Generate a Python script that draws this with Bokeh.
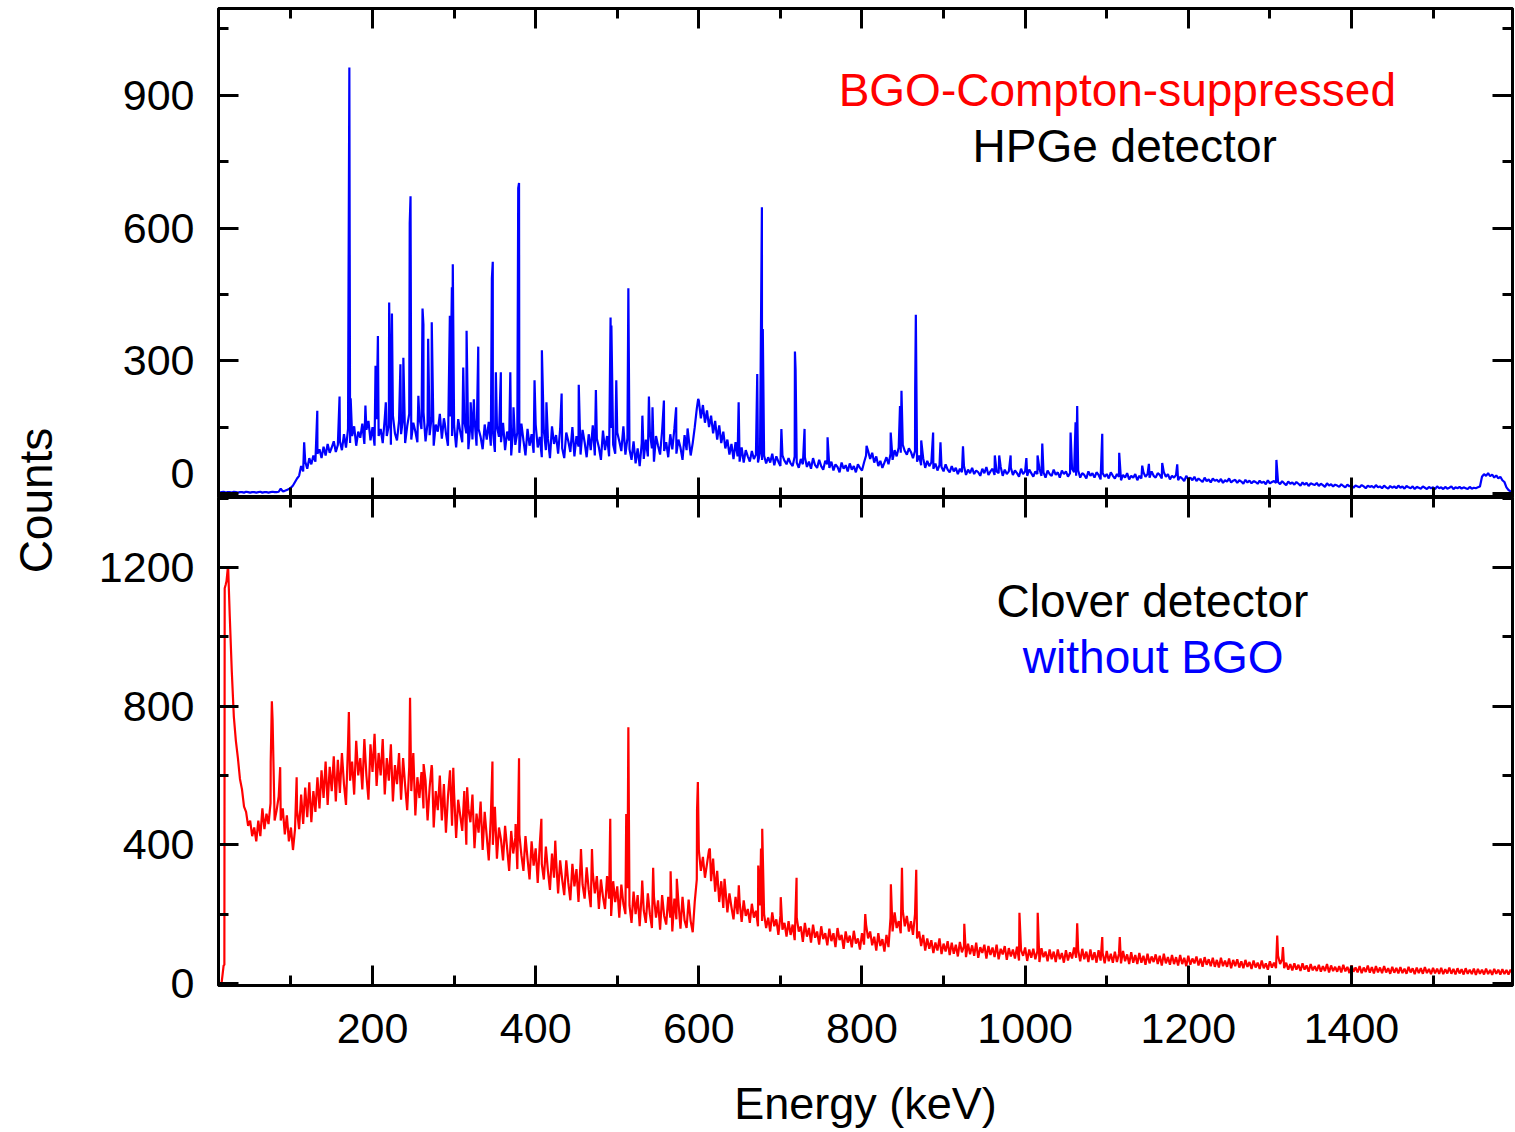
import math
from bokeh.plotting import figure
from bokeh.models import Range1d, FixedTicker, Label, LinearAxis, ColumnDataSource
from bokeh.layouts import row, column
from bokeh.embed import file_html
from bokeh.resources import INLINE

FONT = "Liberation Sans"

# channel energies (keV), 2.5 keV bins from 10 keV
ENERGY = [10 + 2.5 * i for i in range(636)]

# BGO-Compton-suppressed HPGe spectrum: continuum counts per bin
HPGE_COUNTS = [
    3, 2, 3, 4, 2, 3, 3, 2, 4, 3,
    2, 3, 3, 2, 4, 3, 2, 3, 3, 2,
    3, 4, 2, 3, 3, 2, 3, 4, 3, 3,
    4, 11, 5, 6, 8, 10, 13, 18, 26, 34,
    40, 62, 50, 72, 56, 80, 66, 86, 72, 90,
    100, 80, 106, 86, 112, 92, 104, 118, 94, 110,
    118, 98, 134, 104, 146, 114, 130, 152, 108, 140,
    126, 158, 112, 144, 164, 120, 150, 108, 168, 130,
    146, 114, 170, 130, 154, 110, 176, 136, 120, 164,
    134, 172, 114, 152, 180, 122, 160, 140, 116, 170,
    146, 184, 118, 160, 132, 174, 108, 156, 140, 180,
    124, 170, 136, 108, 174, 130, 154, 104, 168, 140,
    116, 164, 136, 100, 156, 122, 170, 108, 146, 128,
    100, 156, 122, 162, 108, 142, 94, 152, 128, 116,
    160, 98, 140, 120, 86, 150, 110, 138, 92, 158,
    120, 86, 146, 108, 134, 92, 156, 104, 128, 82,
    142, 98, 124, 80, 152, 112, 132, 90, 146, 102,
    80, 138, 118, 94, 150, 84, 130, 106, 88, 144,
    116, 82, 134, 98, 154, 86, 124, 104, 76, 142,
    98, 130, 84, 148, 110, 90, 138, 118, 96, 152,
    88, 126, 100, 76, 118, 68, 102, 62, 114, 78,
    122, 84, 138, 102, 72, 130, 108, 88, 142, 96,
    116, 82, 134, 100, 146, 90, 122, 104, 76, 132,
    98, 126, 86, 114, 150, 192, 210, 170, 200, 160,
    188, 150, 176, 136, 164, 122, 154, 114, 140, 102,
    122, 88, 112, 78, 116, 84, 72, 104, 70, 98,
    84, 72, 96, 78, 88, 70, 92, 76, 86, 68,
    82, 70, 90, 64, 84, 72, 62, 86, 74, 66,
    80, 68, 62, 84, 70, 58, 78, 66, 82, 60,
    72, 56, 80, 64, 58, 76, 62, 54, 74, 66,
    58, 72, 52, 66, 60, 48, 70, 56, 64, 50,
    68, 54, 62, 48, 66, 58, 52, 70, 86, 96,
    78, 92, 70, 84, 62, 74, 58, 70, 82, 66,
    90, 76, 98, 84, 104, 92, 110, 96, 88, 102,
    94, 80, 96, 72, 86, 64, 80, 58, 74, 62,
    70, 56, 68, 52, 64, 60, 50, 66, 54, 48,
    62, 50, 58, 44, 56, 48, 62, 42, 54, 46,
    58, 44, 52, 48, 40, 56, 46, 60, 42, 50,
    56, 42, 50, 46, 60, 40, 54, 44, 50, 58,
    42, 52, 46, 38, 56, 44, 50, 40, 54, 46,
    38, 50, 44, 56, 40, 48, 36, 52, 44, 40,
    54, 42, 48, 36, 52, 44, 50, 38, 46, 56,
    48, 40, 52, 36, 46, 42, 34, 50, 40, 46,
    36, 48, 42, 32, 46, 38, 44, 34, 48, 40,
    34, 44, 38, 30, 42, 36, 46, 32, 40, 36,
    44, 30, 40, 34, 48, 38, 44, 36, 50, 40,
    36, 46, 42, 34, 48, 38, 44, 32, 40, 36,
    42, 30, 38, 34, 28, 40, 32, 36, 30, 38,
    28, 34, 30, 26, 36, 28, 32, 25, 34, 29,
    31, 26, 33, 24, 30, 27, 34, 25, 29, 31,
    24, 30, 27, 22, 31, 25, 29, 23, 28, 26,
    22, 29, 24, 27, 21, 30, 23, 26, 28, 24,
    26, 21, 28, 23, 19, 27, 22, 25, 20, 26,
    22, 18, 25, 20, 24, 17, 23, 21, 19, 24,
    17, 22, 19, 15, 23, 18, 21, 16, 20, 18,
    15, 21, 17, 14, 20, 16, 19, 13, 18, 16,
    14, 19, 16, 12, 18, 15, 17, 13, 19, 14,
    16, 12, 18, 14, 11, 17, 13, 16, 12, 18,
    13, 16, 11, 17, 14, 12, 16, 10, 15, 13,
    11, 16, 13, 10, 15, 12, 14, 10, 16, 12,
    14, 10, 15, 11, 13, 16, 10, 14, 12, 15,
    11, 14, 12, 10, 15, 11, 13, 12, 14, 16,
    38, 44, 40, 46, 39, 43, 36, 41, 34, 38,
    30, 26, 14, 8, 5, 4,
]

# HPGe photopeaks: energy (keV) and peak counts
HPGE_PEAK_E = [116.2, 132.3, 159.6, 170.6, 171.6, 173.2, 191.3, 203.7, 206.6, 216.3,
               220.4, 223.8, 234.2, 237.8, 245.6, 246.6, 256.2, 261.3, 262.4, 268.2,
               272.6, 288.7, 294.8, 297.3, 298.4, 311.2, 315.3, 320.3, 324.2, 329.6,
               346.3, 347.4, 351.2, 357.3, 368.9, 372.8, 378.6, 379.6, 398.6, 407.6,
               413.2, 431.8, 452.8, 473.8, 491.8, 492.8, 498.8, 513.6, 530.8, 538.8,
               543.2, 557.2, 572.2, 586.2, 599.2, 648.8, 671.6, 675.8, 677.3, 678.4,
               701.2, 717.8, 718.6, 729.6, 757.8, 805.6, 835.2, 846.6, 848.4, 865.2,
               866.0, 872.6, 887.2, 896.2, 923.8, 962.8, 968.2, 982.2, 1001.5, 1015.2,
               1021.0, 1055.7, 1061.8, 1063.8, 1094.5, 1115.3, 1143.5, 1151.7, 1168.0, 1186.4,
               1308.0]
HPGE_PEAK_C = [116, 187, 219, 480, 963, 215, 199, 289, 356, 206,
               432, 407, 292, 307, 610, 672, 221, 418, 382, 350,
               387, 157, 402, 466, 518, 285, 368, 206, 213, 332,
               486, 524, 274, 274, 274, 195, 690, 702, 256, 324,
               206, 226, 246, 234, 398, 380, 256, 464, 176, 219,
               195, 210, 195, 147, 214, 206, 270, 290, 647, 372,
               146, 321, 280, 146, 127, 108, 138, 198, 232, 237,
               404, 120, 138, 116, 107, 86, 86, 86, 80, 86,
               113, 138, 161, 198, 135, 92, 63, 67, 69, 66,
               76]

# Clover detector without BGO: continuum counts per bin
CLOVER_COUNTS = [
    0, 1, 2, 52, 1150, 1195, 1060, 900, 770, 700,
    650, 590, 560, 510, 495, 455, 470, 425, 450, 410,
    470, 425, 505, 445, 490, 460, 520, 760, 470, 500,
    540, 470, 505, 430, 485, 410, 450, 385, 445, 500,
    445, 545, 460, 565, 480, 580, 465, 555, 495, 595,
    505, 615, 535, 640, 515, 625, 555, 655, 525, 645,
    550, 665, 575, 515, 690, 585, 640, 545, 700, 600,
    650, 560, 705, 600, 530, 690, 610, 720, 570, 665,
    600, 705, 545, 650, 585, 690, 525, 630, 575, 665,
    530, 650, 570, 500, 625, 555, 665, 485, 595, 535,
    610, 505, 585, 470, 565, 630, 450, 555, 500, 600,
    470, 575, 435, 540, 615, 455, 550, 420, 530, 485,
    440, 555, 400, 505, 465, 545, 390, 490, 435, 525,
    385, 495, 425, 355, 480, 400, 510, 360, 450, 415,
    355, 455, 390, 325, 440, 375, 420, 330, 430, 370,
    325, 425, 360, 300, 410, 340, 390, 290, 400, 345,
    300, 395, 325, 270, 375, 305, 360, 260, 355, 300,
    255, 355, 290, 240, 345, 280, 330, 235, 350, 285,
    245, 335, 270, 220, 320, 260, 310, 215, 300, 250,
    215, 310, 245, 195, 295, 235, 280, 190, 285, 230,
    200, 275, 225, 175, 265, 200, 255, 165, 260, 210,
    175, 260, 200, 160, 250, 190, 240, 155, 255, 195,
    170, 250, 190, 150, 245, 185, 235, 158, 250, 182,
    160, 242, 180, 148, 236, 300, 385, 325, 365, 305,
    345, 385, 295, 360, 265, 325, 235, 295, 218, 275,
    205, 260, 220, 185, 250, 200, 235, 178, 240, 195,
    215, 175, 230, 190, 210, 165, 225, 180, 200, 160,
    190, 150, 205, 165, 185, 140, 195, 155, 175, 135,
    180, 140, 170, 125, 190, 150, 165, 120, 175, 135,
    160, 118, 170, 132, 150, 112, 165, 128, 145, 110,
    158, 122, 145, 105, 160, 125, 140, 100, 150, 118,
    138, 104, 152, 115, 130, 98, 145, 112, 170, 130,
    150, 110, 135, 95, 145, 108, 128, 92, 140, 105,
    190, 150, 205, 160, 180, 145, 210, 165, 195, 150,
    180, 140, 200, 130, 150, 108, 140, 95, 130, 100,
    125, 88, 118, 95, 130, 85, 115, 92, 122, 82,
    118, 86, 112, 78, 120, 90, 108, 76, 115, 84,
    110, 80, 118, 74, 105, 88, 112, 72, 108, 82,
    104, 76, 112, 70, 100, 84, 108, 68, 102, 78,
    98, 72, 106, 66, 96, 80, 104, 65, 98, 74,
    100, 70, 94, 62, 102, 76, 92, 64, 98, 70,
    92, 62, 98, 70, 88, 60, 96, 66, 90, 72,
    104, 74, 96, 64, 100, 70, 92, 62, 98, 68,
    90, 60, 96, 66, 88, 58, 94, 64, 86, 60,
    92, 62, 86, 58, 94, 64, 84, 56, 90, 60,
    82, 56, 88, 60, 80, 54, 86, 58, 78, 62,
    84, 56, 80, 52, 86, 58, 76, 54, 82, 56,
    76, 52, 82, 56, 74, 50, 80, 54, 72, 58,
    78, 52, 72, 48, 76, 54, 70, 50, 74, 48,
    68, 46, 74, 50, 66, 48, 72, 44, 68, 50,
    70, 46, 64, 44, 68, 48, 62, 42, 66, 46,
    60, 42, 66, 44, 58, 40, 64, 46, 60, 44,
    80, 56, 70, 44, 60, 40, 56, 38, 58, 40,
    54, 36, 58, 40, 52, 34, 56, 38, 50, 36,
    54, 34, 50, 36, 56, 32, 52, 36, 48, 34,
    50, 32, 54, 35, 48, 30, 52, 34, 46, 32,
    50, 30, 46, 33, 52, 31, 47, 29, 50, 32,
    46, 30, 50, 32, 44, 28, 48, 31, 45, 29,
    47, 30, 43, 28, 48, 32, 44, 27, 46, 30,
    44, 28, 47, 30, 42, 27, 45, 29, 43, 28,
    45, 27, 41, 29, 46, 28, 42, 26, 44, 29,
    41, 26, 44, 28, 40, 27, 43, 25, 42, 28,
    40, 26, 43, 27, 39, 25, 42, 28, 40, 26,
    41, 27, 39, 26, 40, 28,
]

# Clover peaks (including the low-energy edge)
CLOVER_PEAK_E = [18.4, 18.8, 21.0, 23.0, 75.2, 76.6, 86.8, 107.0,
                 171.0, 246.0, 262.6, 273.0, 299.0, 316.0, 347.0, 375.4, 379.6, 407.0,
                 424.0, 455.5, 469.0, 491.4, 511.0, 513.6, 530.6, 544.0, 565.4, 573.0,
                 597.8, 598.8, 613.5, 631.5, 649.0, 672.8, 676.2, 677.7, 700.4, 719.8,
                 804.0, 835.4, 849.0, 866.5, 925.4, 993.0, 1015.4, 1063.8, 1094.5, 1116.0,
                 1309.0, 1316.0]
CLOVER_PEAK_C = [54, 1140, 1160, 1203, 640, 814, 624, 595,
                 783, 824, 633, 620, 622, 566, 640, 460, 650, 475,
                 412, 388, 388, 475, 489, 739, 297, 334, 324, 302,
                 499, 581, 389, 302, 283, 340, 389, 446, 249, 305,
                 200, 286, 334, 328, 172, 204, 204, 174, 134, 134,
                 138, 105]

X_TICKS = [200, 400, 600, 800, 1000, 1200, 1400]
X_MINOR = [100, 300, 500, 700, 900, 1100, 1300, 1500]
TOP_Y_TICKS = [0, 300, 600, 900]
TOP_Y_MINOR = [150, 450, 750, 1050]
TOP_Y_LABELS = ["0", "300", "600", "900"]
BOT_Y_TICKS = [0, 400, 800, 1200]
BOT_Y_MINOR = [200, 600, 1000, 1400]

# the "0" of the upper panel sits slightly higher so that it stays in its own canvas
TOP_LABEL_POS = [46, 300, 600, 900]


def merged(e, c, pe, pc):
    pts = sorted(list(zip(e, c)) + list(zip(pe, pc)), key=lambda t: t[0])
    return ColumnDataSource(dict(x=[p[0] for p in pts], y=[p[1] for p in pts]))


def style_axis(ax, ticks, minor, labels):
    ax.ticker = FixedTicker(ticks=ticks, minor_ticks=minor)
    ax.axis_line_width = 3
    ax.axis_line_color = "black"
    ax.major_tick_in = 20
    ax.major_tick_out = 0
    ax.minor_tick_in = 10
    ax.minor_tick_out = 0
    ax.major_tick_line_width = 3
    ax.minor_tick_line_width = 3
    ax.major_tick_line_color = "black"
    ax.minor_tick_line_color = "black"
    if labels:
        ax.major_label_text_font = FONT
        ax.major_label_text_font_size = "43px"
        ax.major_label_text_color = "black"
    else:
        ax.major_label_text_font_size = "0px"
        ax.major_label_text_alpha = 0
        ax.major_label_standoff = 0


def base_style(p):
    p.grid.visible = False
    p.outline_line_color = "black"
    p.outline_line_width = 3
    p.background_fill_color = "white"
    p.border_fill_color = "white"


def note(p, x, y, text, color):
    p.add_layout(Label(x=x, y=y, text=text, text_align="center", text_baseline="middle",
                       text_color=color, text_font=FONT, text_font_size="46px"))


x_range = Range1d(11.2, 1597.4)

# ---------------- top panel ----------------
top = figure(frame_width=1294, frame_height=489, x_range=x_range,
             y_range=Range1d(-9.0, 1096.3), toolbar_location=None,
             output_backend="svg", min_border_left=140, min_border_right=3,
             min_border_top=8, min_border_bottom=0)
base_style(top)
style_axis(top.xaxis[0], X_TICKS, X_MINOR, False)
style_axis(top.yaxis[0], TOP_Y_TICKS, TOP_Y_MINOR, False)   # tick marks only
# label axis for the upper panel
ax_l = LinearAxis(ticker=FixedTicker(ticks=TOP_LABEL_POS, minor_ticks=[]))
ax_l.major_label_overrides = {pos: txt for pos, txt in zip(TOP_LABEL_POS, TOP_Y_LABELS)}
ax_l.axis_line_color = None
ax_l.major_tick_in = 0
ax_l.major_tick_out = 0
ax_l.minor_tick_in = 0
ax_l.minor_tick_out = 0
ax_l.major_tick_line_color = None
ax_l.minor_tick_line_color = None
ax_l.major_label_text_font = FONT
ax_l.major_label_text_font_size = "43px"
ax_l.major_label_text_color = "black"
ax_l.major_label_standoff = 24
top.add_layout(ax_l, "left")
ax_r = LinearAxis()
style_axis(ax_r, TOP_Y_TICKS, TOP_Y_MINOR, False)
top.add_layout(ax_r, "right")
ax_t = LinearAxis()
style_axis(ax_t, X_TICKS, X_MINOR, False)
top.add_layout(ax_t, "above")

top.line("x", "y", source=merged(ENERGY, HPGE_COUNTS, HPGE_PEAK_E, HPGE_PEAK_C),
         line_color="#0000FF", line_width=2.2)

note(top, 1113, 911, "BGO-Compton-suppressed", "#FF0000")
note(top, 1122, 786, "HPGe detector", "black")

# ---------------- bottom panel ----------------
bot = figure(frame_width=1294, frame_height=488, x_range=x_range,
             y_range=Range1d(-5.8, 1401.9), toolbar_location=None,
             output_backend="svg", min_border_left=140, min_border_right=3,
             min_border_top=0, min_border_bottom=0)
base_style(bot)
style_axis(bot.xaxis[0], X_TICKS, X_MINOR, True)
bot.xaxis[0].major_label_standoff = 28
bot.xaxis[0].axis_label = "Energy (keV)"
bot.xaxis[0].axis_label_text_font = FONT
bot.xaxis[0].axis_label_text_font_size = "45px"
bot.xaxis[0].axis_label_text_font_style = "normal"
bot.xaxis[0].axis_label_text_color = "black"
bot.xaxis[0].axis_label_standoff = 32
style_axis(bot.yaxis[0], BOT_Y_TICKS, BOT_Y_MINOR, True)
bot.yaxis[0].major_label_standoff = 24
ax_r2 = LinearAxis()
style_axis(ax_r2, BOT_Y_TICKS, BOT_Y_MINOR, False)
bot.add_layout(ax_r2, "right")
ax_t2 = LinearAxis()
style_axis(ax_t2, X_TICKS, X_MINOR, False)
bot.add_layout(ax_t2, "above")

bot.line("x", "y", source=merged(ENERGY, CLOVER_COUNTS, CLOVER_PEAK_E, CLOVER_PEAK_C),
         line_color="#FF0000", line_width=2.2)

note(bot, 1156, 1102, "Clover detector", "black")
note(bot, 1157, 943, "without BGO", "#0000FF")

# ---------------- shared y label ----------------
lab = figure(width=78, height=1125, x_range=Range1d(0, 1), y_range=Range1d(0, 1),
             toolbar_location=None, output_backend="svg", x_axis_type=None,
             y_axis_type=None, min_border=0)
lab.grid.visible = False
lab.outline_line_color = None
lab.add_layout(Label(x=35, y=625, x_units="screen", y_units="screen", text="Counts",
                     angle=math.pi / 2, text_align="center", text_baseline="middle",
                     text_font=FONT, text_font_size="46px", text_color="black"))

layout = row(lab, column(top, bot))

open("out.html", "w").write(file_html(layout, INLINE))
